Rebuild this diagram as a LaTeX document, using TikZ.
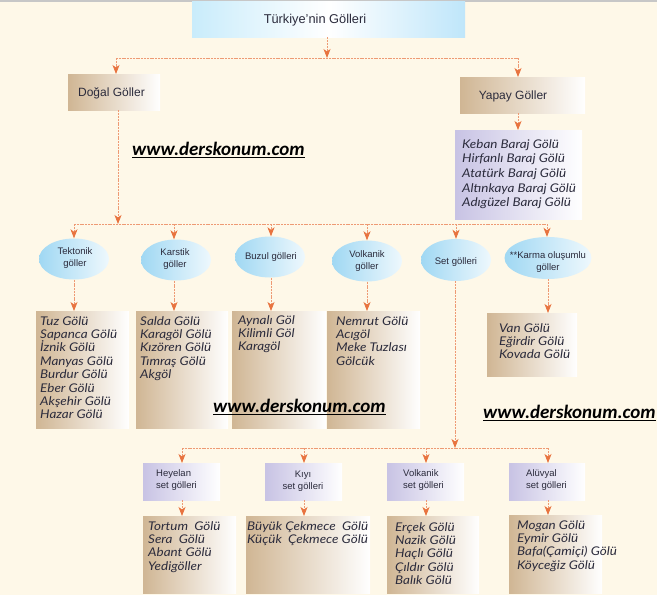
\documentclass[tikz,border=0pt]{standalone}
\usepackage{fontspec}
\setmainfont{Liberation Sans}
\newfontfamily\listfont[FakeStretch=1.12]{Lato}
\newfontfamily\wmfont{Carlito}
\usetikzlibrary{arrows.meta,shapes.geometric}
\definecolor{bgc}{HTML}{FEF8E8}
\definecolor{linec}{HTML}{EE9A74}
\definecolor{tipc}{HTML}{E8733F}
\definecolor{tanc}{HTML}{D0B694}
\definecolor{lavc}{HTML}{C8C3E4}
\definecolor{cyanL}{HTML}{C9ECFB}
\definecolor{cyanR}{HTML}{BFE6FA}
\definecolor{ellL}{HTML}{A0D8F3}
\definecolor{ellR}{HTML}{EEF8FD}
\definecolor{txtc}{HTML}{2B2B3C}
\tikzset{
  x=1pt, y=-1pt,
  conn/.style={draw=linec, line width=0.8pt, dash pattern=on 2pt off 0.8pt},
  arr/.style={conn, -{Stealth[length=9pt,width=7pt,color=tipc,fill=tipc,inset=2.5pt]}},
  tanbox/.style={draw=none, rectangle, anchor=north west, inner sep=0pt, left color=tanc, right color=white},
  lavbox/.style={draw=none, rectangle, anchor=north west, inner sep=0pt, left color=lavc, right color=white},
  ellnode/.style={ellipse, draw=none, inner sep=0pt, left color=ellL, right color=ellR},
  hdr/.style={text=txtc, font=\fontsize{12}{14}\selectfont, inner sep=0pt},
  elltxt/.style={text=txtc, font=\fontsize{9.5}{12}\selectfont, align=center, inner sep=0pt},
  subtxt/.style={text=txtc, font=\fontsize{9.5}{12}\selectfont, align=left, inner sep=0pt, anchor=north west},
  listtxt/.style={text=txtc, font=\listfont\itshape\fontsize{12}{13.4}\selectfont, align=left, inner sep=0pt, anchor=north west},
  wm/.style={font=\wmfont\bfseries\itshape\fontsize{19}{22}\selectfont, inner sep=0pt, text=black},
}
\newcommand{\wmtext}[1]{\underline{#1}}
\begin{document}
\begin{tikzpicture}
\useasboundingbox (0,0) rectangle (657,595);
\fill[bgc] (0,0) rectangle (657,595);
\fill[black!22] (0,0) rectangle (657,1.6);

% title
\node[rectangle, anchor=north west, inner sep=0pt, minimum width=273pt, minimum height=36pt,
  left color=cyanL, right color=cyanR, middle color=white] (title) at (192,1) {};
\node[hdr, font=\fontsize{12.8}{15}\selectfont] (titlet) at (315,20) {Türkiye’nin Gölleri};

% level 1
\node[tanbox, minimum width=92pt, minimum height=36pt] (dogal) at (68,74) {};
\node[hdr] (dogalt) at (111.5,93) {Doğal Göller};
\node[tanbox, minimum width=125pt, minimum height=36pt] (yapay) at (460,77) {};
\node[hdr] (yapayt) at (513,96) {Yapay Göller};

\coordinate (j1) at (327,58);
\coordinate (j1l) at (116,58);
\coordinate (j1r) at (518,58);
\draw[arr] (title.south -| j1) -- (j1);
\draw[conn] (j1l) -- (j1r);
\draw[arr] (j1l) -- (dogal.north -| j1l);
\draw[arr] (j1r) -- (yapay.north -| j1r);

% yapay list
\node[lavbox, minimum width=127pt, minimum height=89pt] (keban) at (455,130) {};
\node[listtxt, font=\listfont\itshape\fontsize{12}{14.7}\selectfont] (kebant) at (462,139) {Keban Baraj Gölü\\Hirfanlı Baraj Gölü\\Atatürk Baraj Gölü\\Altınkaya Baraj Gölü\\Adıgüzel Baraj Gölü};
\draw[arr] (yapay.south -| j1r) -- (keban.north -| j1r);

% level 2 bus
\coordinate (j2) at (118,224);
\coordinate (j2l) at (74,224);
\coordinate (j2r) at (547,224);
\draw[arr] (dogal.south -| j2) -- (j2);
\draw[conn] (j2l) -- (j2r);

% ellipses
\node[ellnode, minimum width=70pt, minimum height=41pt] (tek) at (74,259) {};
\node[elltxt] (tekt) at (75,258) {Tektonik\\göller};
\node[ellnode, minimum width=70pt, minimum height=41pt] (kar) at (176,260) {};
\node[elltxt] (kart) at (175,259) {Karstik\\göller};
\node[ellnode, minimum width=70pt, minimum height=41pt] (buz) at (270,257) {};
\node[elltxt] (buzt) at (271,257) {Buzul gölleri};
\node[ellnode, minimum width=70pt, minimum height=41pt] (vol) at (367,261) {};
\node[elltxt] (volt) at (367,261) {Volkanik\\göller};
\node[ellnode, minimum width=70pt, minimum height=42pt] (set) at (456,260) {};
\node[elltxt] (sett) at (456,262) {Set gölleri};
\node[ellnode, minimum width=87pt, minimum height=42pt] (karma) at (548,258) {};
\node[elltxt] (karmat) at (548,262) {**Karma oluşumlu\\göller};

\foreach \n/\xx in {tek/74, kar/174, buz/271, vol/367, set/456, karma/547}{
  \draw[arr] (\xx,224) -- (\n.north -| \xx,0);
}

% level 2 lists
\node[tanbox, minimum width=93pt, minimum height=117pt] (tekL) at (36,311) {};
\node[listtxt] (tekLt) at (40,316) {Tuz Gölü\\Sapanca Gölü\\İznik Gölü\\Manyas Gölü\\Burdur Gölü\\Eber Gölü\\Akşehir Gölü\\Hazar Gölü};
\node[tanbox, minimum width=92pt, minimum height=117pt] (karL) at (136,311) {};
\node[listtxt] (karLt) at (140,316) {Salda Gölü\\Karagöl Gölü\\Kızören Gölü\\Tımraş Gölü\\Akgöl};
\node[tanbox, minimum width=94pt, minimum height=117pt] (buzL) at (232,311) {};
\node[listtxt] (buzLt) at (238,315) {Aynalı Göl\\Kilimli Göl\\Karagöl};
\node[tanbox, minimum width=93pt, minimum height=117pt] (volL) at (327,311) {};
\node[listtxt] (volLt) at (336,316) {Nemrut Gölü\\Acıgöl\\Meke Tuzlası\\Gölcük};
\node[tanbox, minimum width=90pt, minimum height=63pt] (karmaL) at (487,313) {};
\node[listtxt] (karmaLt) at (499,323) {Van Gölü\\Eğirdir Gölü\\Kovada Gölü};

\draw[arr] (tek.south -| 74,0) -- (tekL.north -| 74,0);
\draw[arr] (kar.south -| 174,0) -- (karL.north -| 174,0);
\draw[arr] (buz.south -| 271,0) -- (buzL.north -| 271,0);
\draw[arr] (vol.south -| 367,0) -- (volL.north -| 367,0);
\draw[arr] (karma.south -| 548,0) -- (karmaL.north -| 548,0);

% set sub-tree
\coordinate (j3) at (455,448);
\coordinate (j3l) at (182,448);
\coordinate (j3r) at (548,448);
\draw[arr] (set.south -| j3) -- (j3);
\draw[conn] (j3l) -- (j3r);

\node[lavbox, minimum width=77pt, minimum height=37pt] (hey) at (143,463) {};
\node[subtxt] (heyt) at (156,469) {Heyelan\\set gölleri};
\node[lavbox, minimum width=77pt, minimum height=37pt] (kiyi) at (265,463) {};
\node[elltxt] (kiyit) at (303,481) {Kıyı\\set gölleri};
\node[lavbox, minimum width=77pt, minimum height=37pt] (vset) at (387,463) {};
\node[subtxt] (vsett) at (403,469) {Volkanik\\set gölleri};
\node[lavbox, minimum width=76pt, minimum height=37pt] (aluv) at (509,463) {};
\node[subtxt] (aluvt) at (526,469) {Alüvyal\\set gölleri};

\draw[arr] (j3l) -- (hey.north -| j3l);
\draw[arr] (304,448) -- (kiyi.north -| 304,0);
\draw[arr] (426,448) -- (vset.north -| 426,0);
\draw[arr] (j3r) -- (aluv.north -| j3r);

\node[tanbox, minimum width=93pt, minimum height=77pt] (heyL) at (143,516) {};
\node[listtxt] (heyLt) at (148,521) {Tortum\ \ Gölü\\Sera\ \ Gölü\\Abant Gölü\\Yedigöller};
\node[tanbox, minimum width=124pt, minimum height=77pt] (kiyiL) at (246,516) {};
\node[listtxt] (kiyiLt) at (247,521) {Büyük Çekmece\ \ Gölü\\Küçük\ \ Çekmece Gölü};
\node[tanbox, minimum width=92pt, minimum height=77pt] (vsetL) at (387,516) {};
\node[listtxt] (vsetLt) at (395,522) {Erçek Gölü\\Nazik Gölü\\Haçlı Gölü\\Çıldır Gölü\\Balık Gölü};
\node[tanbox, minimum width=93pt, minimum height=78pt] (aluvL) at (509,515) {};
\node[listtxt] (aluvLt) at (517,520) {Mogan Gölü\\Eymir Gölü\\Bafa(Çamiçi) Gölü\\Köyceğiz Gölü};

\draw[arr] (hey.south -| 182,0) -- (heyL.north -| 182,0);
\draw[arr] (kiyi.south -| 304,0) -- (kiyiL.north -| 304,0);
\draw[arr] (vset.south -| 426,0) -- (vsetL.north -| 426,0);
\draw[arr] (aluv.south -| 548,0) -- (aluvL.north -| 548,0);

% watermarks
\node[wm, anchor=west] (wm1) at (132,150) {\wmtext{www.derskonum.com}};
\node[wm, anchor=west] (wm2) at (213,407) {\wmtext{www.derskonum.com}};
\node[wm, anchor=west] (wm3) at (483,413) {\wmtext{www.derskonum.com}};
\end{tikzpicture}
\end{document}
